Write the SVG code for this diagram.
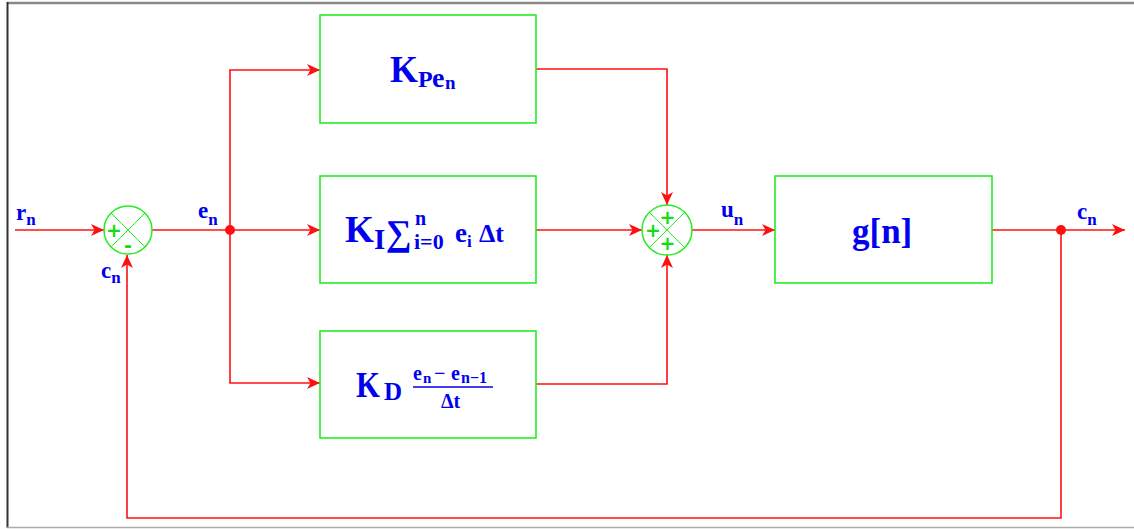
<svg xmlns="http://www.w3.org/2000/svg" width="1134" height="529" viewBox="0 0 1134 529">
<style>
.box{fill:#fff;stroke:#22ee22;stroke-width:1.6}
.sum{fill:none;stroke:#22ee22;stroke-width:1.5}
.x{stroke:#22ee22;stroke-width:1}
.sg{fill:#11dd11;font-family:"DejaVu Sans",sans-serif;font-weight:bold;text-anchor:middle;dominant-baseline:central}
.w{fill:none;stroke:#ff1010;stroke-width:1.6}
.t{fill:#0000ee;font-family:"Liberation Serif","Times New Roman",serif;font-weight:bold}
</style>
<defs>
<marker id="ah" markerUnits="userSpaceOnUse" markerWidth="14" markerHeight="12" refX="13" refY="6" orient="auto">
<path d="M0,0 L13,6 L0,12 L3.5,6 z" fill="#ff1010"/>
</marker>
</defs>
<rect width="1134" height="529" fill="#fff"/>
<g id="frame">
<line x1="7" y1="3" x2="1134" y2="3" stroke="#888" stroke-width="2.5"/>
<line x1="7.5" y1="2" x2="7.5" y2="528" stroke="#333" stroke-width="2"/>
<line x1="7" y1="527.5" x2="1134" y2="527.5" stroke="#aaa" stroke-width="1.5"/>
</g>
<g id="connectors">
<path class="w" d="M15,230 H104" marker-end="url(#ah)"/>
<path class="w" d="M152,230 H230"/>
<path class="w" d="M230,230 V70 H320" marker-end="url(#ah)"/>
<path class="w" d="M230,230 H320" marker-end="url(#ah)"/>
<path class="w" d="M230,230 V383 H320" marker-end="url(#ah)"/>
<path class="w" d="M536,69 H667 V205" marker-end="url(#ah)"/>
<path class="w" d="M536,230 H642" marker-end="url(#ah)"/>
<path class="w" d="M536,384 H667 V255" marker-end="url(#ah)"/>
<path class="w" d="M692,230 H775" marker-end="url(#ah)"/>
<path class="w" d="M992,230 H1125" marker-end="url(#ah)"/>
<path class="w" d="M1061,230 V518 H127 V255" marker-end="url(#ah)"/>
<circle cx="230" cy="230" r="5" fill="#ff1010"/>
<circle cx="1061" cy="230" r="5" fill="#ff1010"/>
</g>
<g id="sum1">
<circle class="sum" cx="128" cy="230" r="24"/>
<line class="x" x1="111" y1="213" x2="145" y2="247"/>
<line class="x" x1="145" y1="213" x2="111" y2="247"/>
<text class="sg" x="114" y="230" font-size="19">+</text>
<text class="sg" x="128" y="245" font-size="19">-</text>
</g>
<g id="sum2">
<circle class="sum" cx="667" cy="230" r="25"/>
<line class="x" x1="649.3" y1="212.3" x2="684.7" y2="247.7"/>
<line class="x" x1="684.7" y1="212.3" x2="649.3" y2="247.7"/>
<text class="sg" x="667.5" y="217" font-size="19">+</text>
<text class="sg" x="653" y="230" font-size="19">+</text>
<text class="sg" x="667.5" y="243" font-size="19">+</text>
</g>
<g id="kp">
<rect class="box" x="320" y="15" width="216" height="108"/>
<text class="t" x="390" y="82" font-size="37" textLength="28" lengthAdjust="spacingAndGlyphs">K</text>
<text class="t" x="418" y="87" font-size="24">P</text>
<text class="t" x="432" y="87" font-size="28">e</text>
<text class="t" x="445" y="89" font-size="19">n</text>
</g>
<g id="ki">
<rect class="box" x="320" y="176" width="216" height="107"/>
<text class="t" x="345" y="242" font-size="37" textLength="29" lengthAdjust="spacingAndGlyphs">K</text>
<text class="t" x="374" y="249" font-size="29">I</text>
<text class="t" x="386" y="245" font-size="36" font-weight="normal">∑</text>
<text class="t" x="415" y="225" font-size="20">n</text>
<text class="t" x="414" y="249" font-size="22">i=0</text>
<text class="t" x="455" y="242" font-size="27">e</text>
<text class="t" x="467" y="247" font-size="17">i</text>
<text class="t" x="479" y="242" font-size="26">Δt</text>
</g>
<g id="kd">
<rect class="box" x="320" y="331" width="216" height="107"/>
<text class="t" x="356" y="397" font-size="36" textLength="24" lengthAdjust="spacingAndGlyphs">K</text>
<text class="t" x="384" y="400" font-size="25">D</text>
<text class="t" x="413" y="380" font-size="20">e</text>
<text class="t" x="423" y="383" font-size="15">n</text>
<text class="t" x="434" y="380" font-size="20">−</text>
<text class="t" x="451" y="380" font-size="20">e</text>
<text class="t" x="461" y="383" font-size="16">n−1</text>
<line x1="413" y1="387" x2="493" y2="387" stroke="#0000ee" stroke-width="1.5"/>
<text class="t" x="441" y="408" font-size="20">Δt</text>
</g>
<g id="plant">
<rect class="box" x="775" y="176" width="217" height="107"/>
<text class="t" x="852" y="243" font-size="35">g[n]</text>
</g>
<g id="labels">
<text class="t" x="16" y="220" font-size="23">r<tspan font-size="17" dy="5">n</tspan></text>
<text class="t" x="198" y="218" font-size="23">e<tspan font-size="17" dy="7">n</tspan></text>
<text class="t" x="101" y="278" font-size="23">c<tspan font-size="17" dy="5">n</tspan></text>
<text class="t" x="721" y="217" font-size="23">u<tspan font-size="17" dy="8">n</tspan></text>
<text class="t" x="1077" y="219" font-size="23">c<tspan font-size="17" dy="6">n</tspan></text>
</g>
</svg>
